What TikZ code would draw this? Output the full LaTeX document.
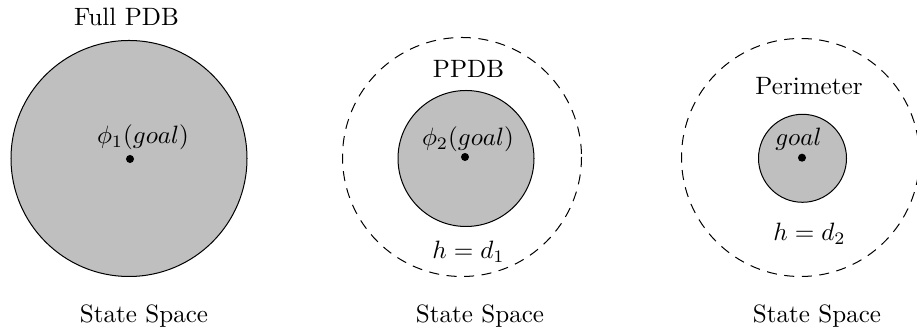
\documentclass[tikz,border=0pt]{standalone}
\begin{document}
\begin{tikzpicture}[x=0.014cm, y=-0.014cm,
    region/.style={draw, fill=gray!50},
    bound/.style={draw, dash pattern=on 4pt off 3pt}]
    \useasboundingbox (0,0) rectangle (917,335);
    % full PDB
    \draw[region] (129,158.5) circle (118);
    \fill (130,159) circle (1.6pt);
    \node (full) at (126.5,16.5) {Full PDB};
    \node (phione) at (143,137) {$\phi_1(goal)$};
    % PPDB
    \draw[bound] (462,157) circle (119.5);
    \draw[region] (466,158.5) circle (68);
    \fill (465,157) circle (1.6pt);
    \node (ppdb) at (468.5,69) {PPDB};
    \node (phitwo) at (468,139) {$\phi_2(goal)$};
    \node (hone) at (468.5,251.5) {$h = d_1$};
    % perimeter
    \draw[bound] (800.5,157.5) circle (119);
    \draw[region] (802.5,158.3) circle (44);
    \fill (802,157.7) circle (1.6pt);
    \node (perim) at (809,86) {Perimeter};
    \node (goal) at (798.5,139) {$goal$};
    \node (htwo) at (809.5,234) {$h = d_2$};
    \foreach \x/\n in {144/ssone, 480/sstwo, 817/ssthree}
        \node (\n) at (\x,316) {State Space};
\end{tikzpicture}
\end{document}
